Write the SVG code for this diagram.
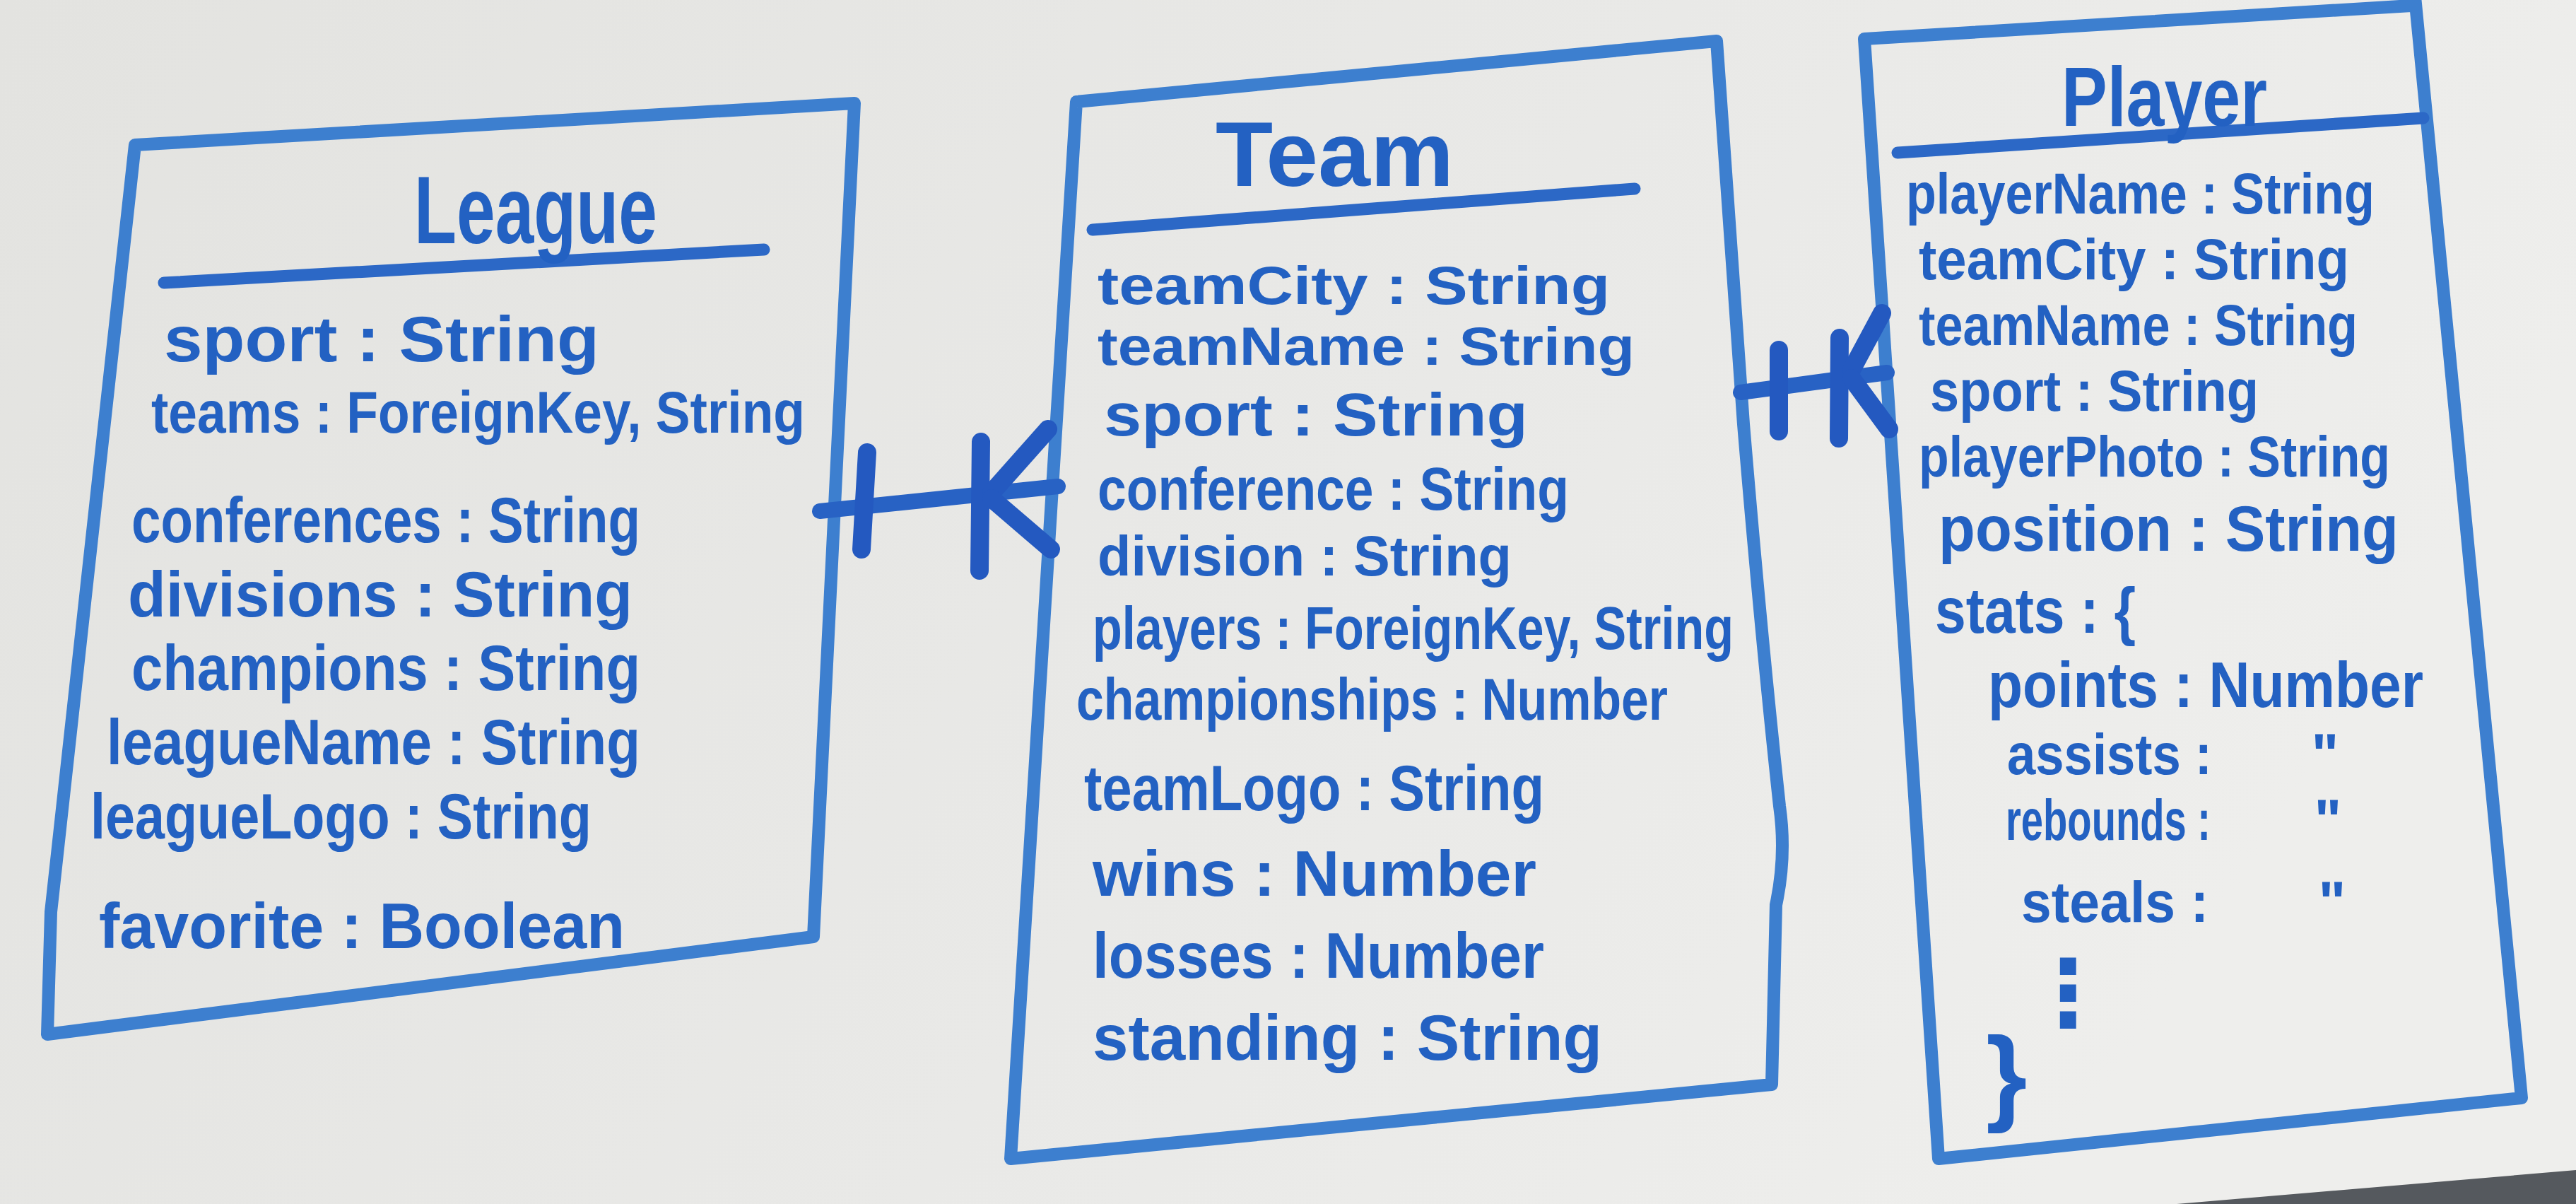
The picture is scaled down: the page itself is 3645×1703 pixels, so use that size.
<svg xmlns="http://www.w3.org/2000/svg" width="3645" height="1703" viewBox="0 0 3645 1703">
<defs>
<linearGradient id="bg" x1="0" y1="0" x2="1" y2="0.3">
<stop offset="0" stop-color="#e3e3e0"/>
<stop offset="0.6" stop-color="#e9e9e7"/>
<stop offset="1" stop-color="#eeeeec"/>
</linearGradient>
<style>
.box{fill:none;stroke:#3d7fcf;stroke-width:18;stroke-linecap:round;stroke-linejoin:round}
.ul{fill:none;stroke:#2c68c6;stroke-width:17;stroke-linecap:round}
.conn{fill:none;stroke:#2862c4;stroke-width:22;stroke-linecap:round}
.bar{fill:none;stroke:#2459c0;stroke-width:26;stroke-linecap:round}
.t{font-family:"Liberation Sans",Arial,sans-serif;font-weight:bold;fill:#2361c2;font-size:90px}
.h{font-size:135px}
.p{font-size:82px}
.m{text-anchor:middle}
</style>
</defs>
<rect x="0" y="0" width="3645" height="1703" fill="url(#bg)"/>
<polygon points="3080,1703 3645,1655 3645,1703" fill="#55595e"/>

<g id="league">
<path class="box" d="M191,205 L1209,146 L1151,1325 L67,1463 L72,1290 Z"/>
<line class="ul" x1="232" y1="400" x2="1081" y2="353"/>
<text class="t h" x="586" y="344" textLength="344" lengthAdjust="spacingAndGlyphs">League</text>
<text class="t" x="232" y="511" textLength="616" lengthAdjust="spacingAndGlyphs">sport : String</text>
<text class="t" x="214" y="612" style="font-size:84px" textLength="925" lengthAdjust="spacingAndGlyphs">teams : ForeignKey, String</text>
<text class="t" x="186" y="767" textLength="720" lengthAdjust="spacingAndGlyphs">conferences : String</text>
<text class="t" x="181" y="872" textLength="714" lengthAdjust="spacingAndGlyphs">divisions : String</text>
<text class="t" x="186" y="976" textLength="720" lengthAdjust="spacingAndGlyphs">champions : String</text>
<text class="t" x="151" y="1081" textLength="755" lengthAdjust="spacingAndGlyphs">leagueName : String</text>
<text class="t" x="128" y="1186" textLength="709" lengthAdjust="spacingAndGlyphs">leagueLogo : String</text>
<text class="t" x="140" y="1341" textLength="744" lengthAdjust="spacingAndGlyphs">favorite : Boolean</text>
</g>

<g id="team">
<path class="box" d="M1523,144 L2429,58 L2467,600 Q2492,900 2518,1140 Q2528,1210 2513,1280 L2507,1534 L1430,1639 Z"/>
<line class="ul" x1="1546" y1="325" x2="2313" y2="267"/>
<text class="t" x="1720" y="263" style="font-size:130px" textLength="337" lengthAdjust="spacingAndGlyphs">Team</text>
<text class="t" x="1553" y="430" style="font-size:76px" textLength="725" lengthAdjust="spacingAndGlyphs">teamCity : String</text>
<text class="t" x="1553" y="516" style="font-size:76px" textLength="760" lengthAdjust="spacingAndGlyphs">teamName : String</text>
<text class="t" x="1562" y="616" style="font-size:86px" textLength="600" lengthAdjust="spacingAndGlyphs">sport : String</text>
<text class="t" x="1553" y="721" style="font-size:86px" textLength="667" lengthAdjust="spacingAndGlyphs">conference : String</text>
<text class="t" x="1553" y="814" style="font-size:80px" textLength="586" lengthAdjust="spacingAndGlyphs">division : String</text>
<text class="t" x="1546" y="918" style="font-size:86px" textLength="907" lengthAdjust="spacingAndGlyphs">players : ForeignKey, String</text>
<text class="t" x="1523" y="1018" style="font-size:84px" textLength="837" lengthAdjust="spacingAndGlyphs">championships : Number</text>
<text class="t" x="1534" y="1146" textLength="651" lengthAdjust="spacingAndGlyphs">teamLogo : String</text>
<text class="t" x="1546" y="1267" textLength="628" lengthAdjust="spacingAndGlyphs">wins : Number</text>
<text class="t" x="1546" y="1383" textLength="639" lengthAdjust="spacingAndGlyphs">losses : Number</text>
<text class="t" x="1546" y="1499" textLength="721" lengthAdjust="spacingAndGlyphs">standing : String</text>
</g>

<g id="player">
<path class="box" d="M2638,55 L3412,8 M3417,-5 L3568,1553 L2743,1639 L2638,55"/>
<line class="ul" x1="2685" y1="216" x2="3429" y2="167"/>
<text class="t" x="2917" y="178" style="font-size:118px" textLength="291" lengthAdjust="spacingAndGlyphs">Player</text>
<text class="t p" x="2697" y="302" textLength="663" lengthAdjust="spacingAndGlyphs">playerName : String</text>
<text class="t p" x="2715" y="395" textLength="609" lengthAdjust="spacingAndGlyphs">teamCity : String</text>
<text class="t p" x="2715" y="488" textLength="621" lengthAdjust="spacingAndGlyphs">teamName : String</text>
<text class="t p" x="2731" y="581" textLength="465" lengthAdjust="spacingAndGlyphs">sport : String</text>
<text class="t p" x="2715" y="674" textLength="667" lengthAdjust="spacingAndGlyphs">playerPhoto : String</text>
<text class="t" x="2743" y="779" textLength="651" lengthAdjust="spacingAndGlyphs">position : String</text>
<text class="t" x="2738" y="895" textLength="284" lengthAdjust="spacingAndGlyphs">stats : {</text>
<text class="t" x="2813" y="1000" textLength="616" lengthAdjust="spacingAndGlyphs">points : Number</text>
<text class="t p" x="2840" y="1095" textLength="290" lengthAdjust="spacingAndGlyphs">assists :</text>
<text class="t p m" x="3290" y="1095">"</text>
<text class="t p" x="2838" y="1188" textLength="290" lengthAdjust="spacingAndGlyphs">rebounds :</text>
<text class="t p m" x="3294" y="1188">"</text>
<text class="t p" x="2860" y="1304" textLength="265" lengthAdjust="spacingAndGlyphs">steals :</text>
<text class="t p m" x="3300" y="1304">"</text>
<text class="t m" x="2926" y="1450" style="font-size:130px;font-family:'DejaVu Sans',sans-serif">⋮</text>
<text class="t" x="2810" y="1572" style="font-size:150px">}</text>
</g>

<g id="connectors">
<g id="league-team">
<line class="conn" x1="1160" y1="723" x2="1497" y2="688"/>
<line class="bar" x1="1227" y1="640" x2="1219" y2="777"/>
<line class="bar" x1="1388" y1="625" x2="1386" y2="807"/>
<line class="bar" x1="1403" y1="697" x2="1483" y2="607"/>
<line class="bar" x1="1403" y1="705" x2="1487" y2="777"/>
</g>
<g id="team-player">
<line class="conn" x1="2463" y1="555" x2="2670" y2="527"/>
<line class="bar" x1="2517" y1="495" x2="2517" y2="610"/>
<line class="bar" x1="2603" y1="478" x2="2602" y2="620"/>
<line class="bar" x1="2620" y1="523" x2="2663" y2="443"/>
<line class="bar" x1="2620" y1="535" x2="2673" y2="607"/>
</g>
</g>
</svg>
